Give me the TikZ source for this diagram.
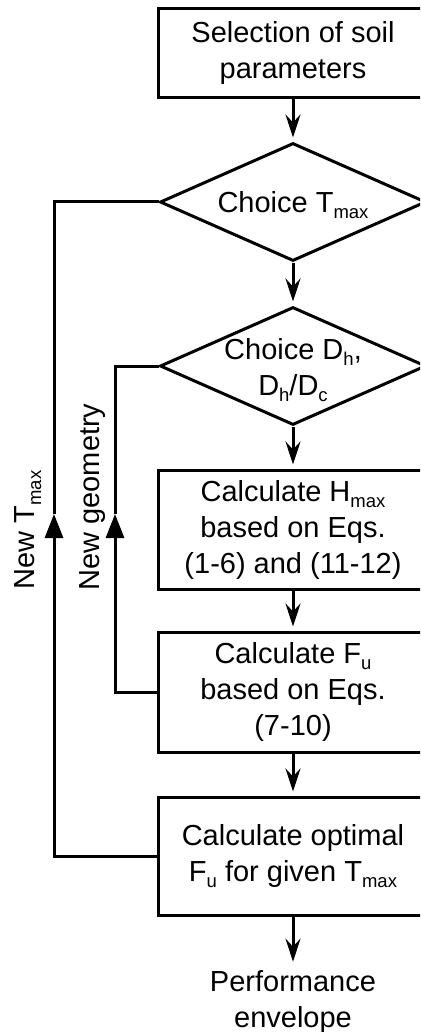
\documentclass[tikz,border=0pt]{standalone}
\usepackage{fontspec}
\setmainfont{Liberation Sans}
\usetikzlibrary{shapes.geometric,arrows.meta}
\newcommand{\lowsub}[1]{\raisebox{-0.22em}{\fontsize{18.5}{18.5}\selectfont #1}}

\begin{document}
\begin{tikzpicture}[x=1pt,y=-1pt,line width=3pt,
  every node/.style={font=\fontsize{29}{36}\selectfont,align=center},
  block/.style={draw,rectangle,minimum width=270pt,inner sep=0pt},
  decision/.style={draw,diamond,minimum width=266pt,minimum height=118pt,inner sep=0pt},
  flow/.style={-{Stealth[length=23pt,width=15pt,inset=8pt]},shorten >=4pt},
  back/.style={-{Triangle[length=24pt,width=18pt]}}]
\useasboundingbox (0,0) rectangle (420,1032);
\clip (0,0) rectangle (420,1032);
%
\node[block,minimum height=89pt] (soil) at (293,53.5) {Selection of soil\\parameters};
\node[decision] (tmax) at (293,202) {};
\node (tmaxtxt) at (293,205) {Choice T\lowsub{max}};
\node[decision] (geom) at (293,366) {};
\node (geomtxt) at (293,370) {Choice D\lowsub{h},\\D\lowsub{h}/D\lowsub{c}};
\node[block,minimum height=119pt] (hmax) at (293,529.5) {Calculate H\lowsub{max}\\based on Eqs.\\(1-6) and (11-12)};
\node[block,minimum height=120pt] (fu) at (293,692) {Calculate F\lowsub{u}\\based on Eqs.\\(7-10)};
\node[block,minimum height=118pt] (opt) at (293,856) {Calculate optimal\\F\lowsub{u} for given T\lowsub{max}};
\node (env) at (293,1002) {Performance\\envelope};
%
\draw[flow] (soil) -- (tmax);
\draw[flow] (tmax) -- (geom);
\draw[flow] (geom) -- (hmax);
\draw[flow] (hmax) -- (fu);
\draw[flow] (fu) -- (opt);
\draw[flow] (opt) -- (env);
%
\coordinate (newt) at (54,514);
\coordinate (newg) at (115,514);
\draw[back] (opt.west) -| (newt);
\draw (newt) |- (tmax.west);
\draw[back] (fu.west) -| (newg);
\draw (newg) |- (geom.west);
%
\node[rotate=90] (newtlbl) at (28,530) {New T\lowsub{max}};
\node[rotate=90] (newglbl) at (93,497) {New geometry};
%
\end{tikzpicture}
\end{document}
